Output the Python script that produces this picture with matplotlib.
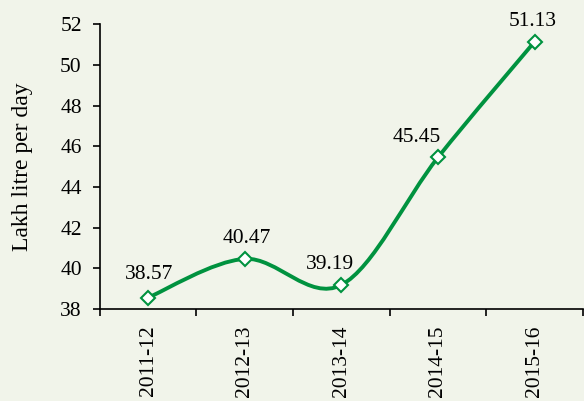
import matplotlib.pyplot as plt
from matplotlib.path import Path
from matplotlib.patches import PathPatch
import numpy as np

years = ['2011-12', '2012-13', '2013-14', '2014-15', '2015-16']
values = [38.57, 40.47, 39.19, 45.45, 51.13]
# label offsets in points (dx, dy)
label_offsets = [(0.7, 16.5), (1.5, 15), (-8, 15), (-15, 14.5), (-1.5, 14.5)]

bg = '#f1f4ea'
green = '#00923f'

plt.rcParams['font.family'] = ['Liberation Serif', 'DejaVu Serif']

fig = plt.figure(figsize=(5.84, 4.01), dpi=100, facecolor=bg)
ax = fig.add_axes([0.171, 0.229, 0.827, 0.711])
ax.set_facecolor(bg)

x = np.arange(len(values), dtype=float)
y = np.array(values)

# smoothed line (Excel-style bezier through the points)
verts = [(x[0], y[0])]
codes = [Path.MOVETO]
n = len(x)
for i in range(n - 1):
    p0 = np.array([x[max(i - 1, 0)], y[max(i - 1, 0)]])
    p1 = np.array([x[i], y[i]])
    p2 = np.array([x[i + 1], y[i + 1]])
    p3 = np.array([x[min(i + 2, n - 1)], y[min(i + 2, n - 1)]])
    c1 = p1 + (p2 - p0) / 6
    c2 = p2 - (p3 - p1) / 6
    verts += [tuple(c1), tuple(c2), tuple(p2)]
    codes += [Path.CURVE4] * 3
ax.add_patch(PathPatch(Path(verts, codes), facecolor='none', edgecolor=green,
                       lw=2.8, capstyle='round', zorder=2))
ax.plot(x, y, linestyle='none', marker='D', markersize=7.5, markerfacecolor='white',
        markeredgecolor=green, markeredgewidth=1.5, zorder=3)

for xi, yi, (dx, dy) in zip(x, y, label_offsets):
    ax.annotate(f'{yi:.2f}', (xi, yi), xytext=(dx, dy), textcoords='offset points',
                ha='center', va='center', fontsize=15.5)

ax.set_xlim(-0.5, len(values) - 0.5)
ax.set_ylim(38, 52)
ax.set_yticks(np.arange(38, 53, 2))
ax.set_xticks(x)
ax.set_xticklabels(years, rotation=90, fontsize=15.5)
ax.tick_params(axis='x', which='major', length=0, pad=12)
ax.set_xticks(np.arange(-0.5, len(values), 1), minor=True)
ax.tick_params(axis='x', which='minor', length=5, width=1.2, direction='out')
ax.tick_params(axis='y', length=5, width=1.2, direction='out', labelsize=15.5, pad=8)

for s in ['top', 'right']:
    ax.spines[s].set_visible(False)
for s in ['left', 'bottom']:
    ax.spines[s].set_linewidth(1.2)

ax.set_ylabel('Lakh litre per day', fontsize=17)
ax.yaxis.set_label_coords(-0.139, 0.5)

fig.savefig('out.png', dpi=100, facecolor=bg)
